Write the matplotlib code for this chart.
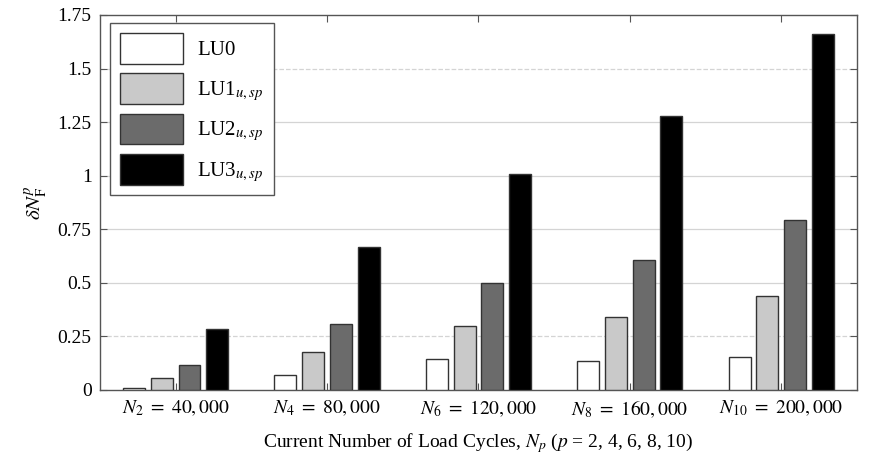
import numpy as np
import matplotlib.pyplot as plt
from matplotlib.patches import Patch

plt.rcParams['font.family'] = ['Liberation Serif', 'DejaVu Serif']
plt.rcParams['mathtext.fontset'] = 'stix'

groups = ["$N_2\\ =\\ 40,000$", "$N_4\\ =\\ 80,000$", "$N_6\\ =\\ 120,000$",
          "$N_8\\ =\\ 160,000$", "$N_{10}\\ =\\ 200,000$"]
series = ["LU0", "LU1$_{u,sp}$", "LU2$_{u,sp}$", "LU3$_{u,sp}$"]
lu0 = [0.01, 0.07, 0.145, 0.135, 0.155]
lu1 = [0.055, 0.175, 0.30, 0.34, 0.44]
lu2 = [0.115, 0.31, 0.50, 0.605, 0.795]
lu3 = [0.285, 0.665, 1.01, 1.28, 1.66]
values = [lu0, lu1, lu2, lu3]
colors = ["#ffffff", "#c9c9c9", "#6b6b6b", "#000000"]
yticks = [0, 0.25, 0.5, 0.75, 1, 1.25, 1.5, 1.75]
yticklabels = ["0", "0.25", "0.5", "0.75", "1", "1.25", "1.5", "1.75"]

fig = plt.figure(figsize=(8.69, 4.67), dpi=100)
ax = fig.add_axes([0.115, 0.165, 0.871, 0.803])

x = np.arange(1, len(groups) + 1)
step = 0.183
width = 0.145
for i, (vals, c) in enumerate(zip(values, colors)):
    ax.bar(x + (i - 1.5) * step, vals, width=width, color=c,
           edgecolor="#333333", linewidth=1.0, zorder=3)

# grid lines
for yv in yticks[1:-1]:
    ls = "--" if yv in (0.25, 1.5) else "-"
    ax.axhline(yv, color="#d4d4d4", lw=0.9, ls=ls, zorder=1)

ax.set_xlim(0.5, 5.5)
ax.set_ylim(0, 1.75)
ax.set_xticks(x)
ax.set_xticklabels(groups, fontsize=14)
ax.set_yticks(yticks)
ax.set_yticklabels(yticklabels, fontsize=14)
ax.tick_params(direction="in", top=True, right=True, length=5,
               color="#555555", pad=6)
for s in ax.spines.values():
    s.set_color("#555555")
    s.set_linewidth(1.0)

ax.set_xlabel("Current Number of Load Cycles, $N_p$ ($p$ = 2, 4, 6, 8, 10)",
              fontsize=14, labelpad=8)
ax.set_ylabel(r"$\delta N_{\mathrm{F}}^{p}$", fontsize=15, labelpad=6)

handles = [Patch(facecolor=c, edgecolor="#333333", linewidth=1.0) for c in colors]
leg = ax.legend(handles, series, loc="upper left", fontsize=15,
                handlelength=3.0, handleheight=1.9, labelspacing=0.45,
                borderpad=0.5, handletextpad=0.7, fancybox=False,
                framealpha=1, edgecolor="#555555", borderaxespad=0,
                bbox_to_anchor=(0.013, 0.979))
leg.get_frame().set_linewidth(1.0)

fig.savefig("out.png", dpi=100)
